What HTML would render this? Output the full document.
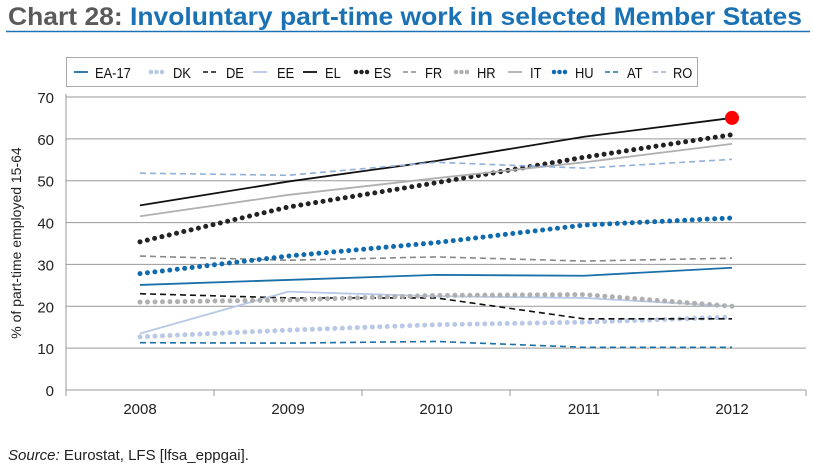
<!DOCTYPE html>
<html><head><meta charset="utf-8"><style>
body{margin:0;background:#fff;width:813px;height:469px;overflow:hidden;font-family:"Liberation Sans",sans-serif}
</style></head><body>
<svg id="c" width="813" height="469" xmlns="http://www.w3.org/2000/svg">
<text x="8" y="25" font-size="25" font-weight="bold" textLength="794" lengthAdjust="spacingAndGlyphs"><tspan fill="#5a5a5a">Chart 28: </tspan><tspan fill="#1a72b4">Involuntary part-time work in selected Member States</tspan></text>
<line x1="6" y1="31.5" x2="810" y2="31.5" stroke="#1a72b4" stroke-width="1.5"/>
<rect x="66.5" y="57.5" width="631" height="29" fill="none" stroke="#aaa"/>
<g id="grid"></g><g id="series"></g><g id="legend"></g>
<text x="8" y="460" font-size="15" fill="#222"><tspan font-style="italic">Source:</tspan> Eurostat, LFS [lfsa_eppgai].</text>
</svg>
<script>
const years=["2008","2009","2010","2011","2012"];
const yTicks=[0,10,20,30,40,50,60,70];
const names=["EA-17","DK","DE","EE","EL","ES","FR","HR","IT","HU","AT","RO"];
const ea17=[25.1,26.3,27.5,27.3,29.2];
const dk=[12.7,14.3,15.6,16.2,17.4];
const de=[23,22,22,17,17];
const ee=[13.5,23.5,22.4,22,20];
const el=[44.1,49.8,54.7,60.5,65];
const es=[35.4,43.7,49.5,55.6,61];
const fr=[32,31,31.8,30.8,31.5];
const hr=[21,21.5,22.6,22.8,20];
const it=[41.5,46.6,50.6,54.4,58.8];
const hu=[27.8,32,35.2,39.4,41.1];
const at=[11.3,11.2,11.6,10.2,10.2];
const ro=[51.8,51.3,54.4,53,55.1];
const seriesVals=[ea17,dk,de,ee,el,es,fr,hr,it,hu,at,ro];
const styles=[
 {c:"#1a6fa8",t:"solid"},{c:"#b8c8e6",t:"dot"},{c:"#111",t:"dash"},{c:"#b8c8e6",t:"solid"},
 {c:"#111",t:"solid"},{c:"#222",t:"dot"},{c:"#888",t:"dash"},{c:"#b0b0b0",t:"dot"},
 {c:"#b0b0b0",t:"solid"},{c:"#0f6aae",t:"dot"},{c:"#1a6fa8",t:"dash"},{c:"#8fb0da",t:"dash"}];
const NS="http://www.w3.org/2000/svg";
const L=66,R=806,Y0=390,YT=97;
const x=i=>L+(R-L)/years.length*(i+0.5);
const y=v=>Y0-(v/70)*(Y0-YT);
function mk(t,a,p){const e=document.createElementNS(NS,t);for(const k in a)e.setAttribute(k,a[k]);p.appendChild(e);return e;}
const g=document.getElementById('grid');
yTicks.forEach(v=>{
 if(v>0){const ln=mk('line',{x1:L,x2:R,y1:y(v),y2:y(v),stroke:'#999','stroke-width':1},g);
 
 }
 const t=mk('text',{x:54,y:y(v)+6,'font-size':15,'text-anchor':'end',fill:'#222'},g);t.textContent=v;
 
 
});
mk('line',{x1:L,x2:L,y1:YT-3,y2:Y0,stroke:'#999'},g);
const xa=mk('line',{x1:L,x2:R,y1:Y0,y2:Y0,stroke:'#999'},g);


for(let i=0;i<=years.length;i++){mk('line',{x1:L+(R-L)/5*i,x2:L+(R-L)/5*i,y1:Y0,y2:Y0+6,stroke:'#999'},g);}
years.forEach((yr,i)=>{const t=mk('text',{x:x(i),y:414,'font-size':15,'text-anchor':'middle',fill:'#222'},g);t.textContent=yr;
 
 });
const yt=mk('text',{transform:'translate(21,243) rotate(-90)','font-size':14,'text-anchor':'middle',fill:'#222'},g);
yt.textContent='% of part-time employed 15-64';


function dashAttr(s){return s.t==='dot'?{'stroke-dasharray':'0 7.5','stroke-linecap':'round','stroke-width':5}:s.t==='dash'?{'stroke-dasharray':'6 4','stroke-width':1.6}:{'stroke-width':1.8};}
const sg=document.getElementById('series');
seriesVals.forEach((vals,si)=>{
 const s=styles[si];
 const a=Object.assign({d:vals.map((v,i)=>(i?'L':'M')+x(i)+' '+y(v)).join(' '),fill:'none',stroke:s.c},dashAttr(s));
 const p=mk('path',a,sg);
 
 
});
const hl=mk('circle',{cx:x(4),cy:y(el[4]),r:7,fill:'#f00'},sg);


const lg=document.getElementById('legend');
const lx=[74,150,203,253,303,355,403,455,508,553,605,653];
const tx=[95,173,226,277,325,374,425,477,530,575,627,673];
names.forEach((n,i)=>{
 const s=styles[i];const x0=lx[i];
 const a=Object.assign({x1:x0,x2:x0+14,y1:72,y2:72,stroke:s.c},dashAttr(s));
 if(s.t==='dot'){a['stroke-dasharray']='0 5.5';a['stroke-width']=4.5;a.x1=x0+1;a.x2=x0+13;}
 if(s.t==='dash'){a['stroke-dasharray']='5 3';}
 mk('line',a,lg);
 const t=mk('text',{x:tx[i],y:78,'font-size':15,fill:'#111',transform:'translate('+tx[i]+',0) scale(0.86,1) translate('+(-tx[i])+',0)'},lg);t.textContent=n;
 
 
});
</script>
</body></html>
